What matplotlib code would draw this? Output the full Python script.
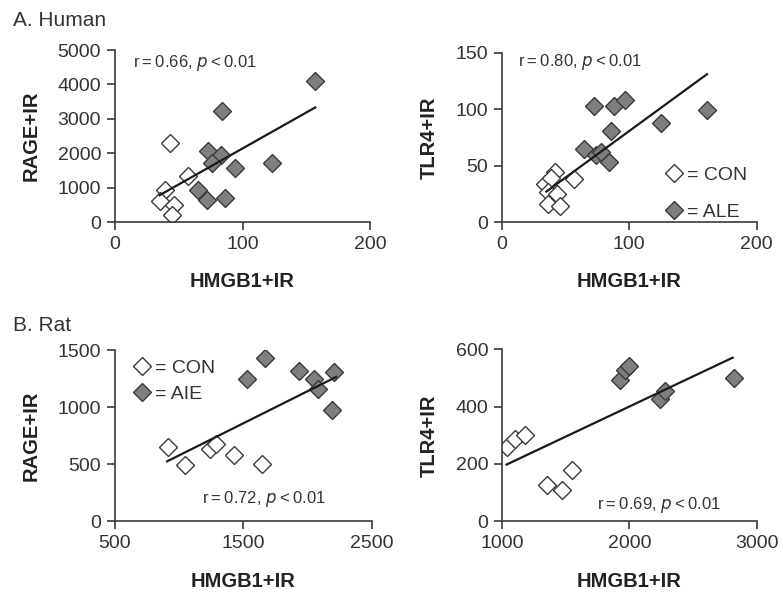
import matplotlib
matplotlib.use('Agg')
import matplotlib.pyplot as plt

plt.rcParams['font.family'] = ['Liberation Sans', 'DejaVu Sans']

# ---- data ----
# A. Human, RAGE vs HMGB1
hum_rage_con_x = [43, 57, 39, 35, 46, 45]
hum_rage_con_y = [2300, 1350, 930, 600, 490, 200]
hum_rage_ale_x = [157, 84, 73, 83, 76, 94, 123, 65, 72, 86]
hum_rage_ale_y = [4100, 3230, 2070, 1940, 1710, 1580, 1730, 940, 650, 700]
hum_rage_fit_x = [35, 157]
hum_rage_fit_y = [780, 3330]

# A. Human, TLR4 vs HMGB1
hum_tlr4_con_x = [42, 57, 34, 39, 36, 43, 36, 46]
hum_tlr4_con_y = [44, 38, 34, 39, 27, 25, 16, 14]
hum_tlr4_ale_x = [72, 88, 97, 161, 125, 86, 64.5, 74, 78, 84]
hum_tlr4_ale_y = [103, 103, 108, 99, 88, 81, 64.5, 59, 62, 53]
hum_tlr4_fit_x = [35, 161]
hum_tlr4_fit_y = [27, 131]

# B. Rat, RAGE vs HMGB1
rat_rage_con_x = [914, 1042, 1241, 1290, 1424, 1649]
rat_rage_con_y = [650, 490, 630, 680, 580, 505]
rat_rage_aie_x = [1665, 1531, 1935, 2050, 2079, 2207, 2194]
rat_rage_aie_y = [1433, 1251, 1319, 1246, 1164, 1313, 974]
rat_rage_fit_x = [906, 2222]
rat_rage_fit_y = [526, 1266]

# B. Rat, TLR4 vs HMGB1
rat_tlr4_con_x = [1035, 1100, 1175, 1349, 1467, 1546]
rat_tlr4_con_y = [258, 286, 302, 126, 108, 178]
rat_tlr4_aie_x = [1927, 1966, 1997, 2236, 2283, 2819]
rat_tlr4_aie_y = [492, 527, 542, 426, 453, 500]
rat_tlr4_fit_x = [1034, 2811]
rat_tlr4_fit_y = [198, 571]

# ---- style ----
tick_fs = 14
label_fs = 14.5
note_fs = 12
txt_col = '#333333'
edge_col = '#3a3a3a'
gray_fill = '#7f7f7f'
ms = 9

fig = plt.figure(figsize=(7.83, 5.97), dpi=100)


def setup(ax, xlim, ylim, xticks, yticks, ylabel):
    ax.set_xlim(xlim)
    ax.set_ylim(ylim)
    ax.set_xticks(xticks)
    ax.set_yticks(yticks)
    for s in ['top', 'right']:
        ax.spines[s].set_visible(False)
    for s in ['left', 'bottom']:
        ax.spines[s].set_color(edge_col)
        ax.spines[s].set_linewidth(1.2)
    ax.tick_params(direction='out', length=6, width=1.2, color=edge_col,
                   labelsize=tick_fs, labelcolor=txt_col, pad=4)
    ax.set_xlabel('HMGB1+IR', fontsize=label_fs, fontweight='bold', color='#222222', labelpad=14)
    ax.set_ylabel(ylabel, fontsize=label_fs, fontweight='bold', color='#222222', labelpad=12)
    ax.patch.set_alpha(0)


def draw(ax, cx, cy, gx, gy, fx, fy, glabel):
    ax.plot(fx, fy, color='#1a1a1a', lw=1.6, zorder=3)
    ax.plot(cx, cy, 'D', ms=ms, mfc='white', mec=edge_col, mew=1.0, ls='none',
            label='= CON', zorder=2)
    ax.plot(gx, gy, 'D', ms=ms, mfc=gray_fill, mec=edge_col, mew=1.0, ls='none',
            label='= ' + glabel, zorder=2)


def note(ax, x, y, r):
    ax.text(x, y, 'r\u2009=\u2009' + r + ', $\\it{p}$\u2009<\u20090.01', transform=ax.transAxes,
            ha='center', va='center', fontsize=note_fs, color=txt_col)


# A-left
ax1 = fig.add_axes([0.1469, 0.6281, 0.3257, 0.2881])
draw(ax1, hum_rage_con_x, hum_rage_con_y, hum_rage_ale_x, hum_rage_ale_y,
     hum_rage_fit_x, hum_rage_fit_y, 'ALE')
setup(ax1, (0, 200), (0, 5000), [0, 100, 200], [0, 1000, 2000, 3000, 4000, 5000], 'RAGE+IR')
note(ax1, 0.314, 0.924, '0.66')

# A-right
ax2 = fig.add_axes([0.6408, 0.6281, 0.3257, 0.2836])
draw(ax2, hum_tlr4_con_x, hum_tlr4_con_y, hum_tlr4_ale_x, hum_tlr4_ale_y,
     hum_tlr4_fit_x, hum_tlr4_fit_y, 'ALE')
setup(ax2, (0, 200), (0, 150), [0, 100, 200], [0, 50, 100, 150], 'TLR4+IR')
note(ax2, 0.306, 0.947, '0.80')
ax2.legend(loc='upper left', bbox_to_anchor=(0.59, 0.385), frameon=False,
           fontsize=tick_fs, handletextpad=0.1, labelspacing=1.0,
           borderpad=0, handlelength=1.2, labelcolor=txt_col)

# B-left
ax3 = fig.add_axes([0.1469, 0.1268, 0.3278, 0.2864])
draw(ax3, rat_rage_con_x, rat_rage_con_y, rat_rage_aie_x, rat_rage_aie_y,
     rat_rage_fit_x, rat_rage_fit_y, 'AIE')
setup(ax3, (500, 2500), (0, 1500), [500, 1500, 2500], [0, 500, 1000, 1500], 'RAGE+IR')
note(ax3, 0.578, 0.129, '0.72')
ax3.legend(loc='upper left', bbox_to_anchor=(0.02, 1.005), frameon=False,
           fontsize=tick_fs, handletextpad=0.1, labelspacing=0.45,
           borderpad=0, handlelength=1.2, labelcolor=txt_col)

# B-right
ax4 = fig.add_axes([0.6415, 0.1268, 0.3249, 0.2880])
draw(ax4, rat_tlr4_con_x, rat_tlr4_con_y, rat_tlr4_aie_x, rat_tlr4_aie_y,
     rat_tlr4_fit_x, rat_tlr4_fit_y, 'AIE')
setup(ax4, (1000, 3000), (0, 600), [1000, 2000, 3000], [0, 200, 400, 600], 'TLR4+IR')
note(ax4, 0.617, 0.097, '0.69')

fig.text(0.0166, 0.965, 'A. Human', fontsize=15, color=txt_col, va='center', ha='left')
fig.text(0.0166, 0.455, 'B. Rat', fontsize=15, color=txt_col, va='center', ha='left')

fig.savefig('out.png', dpi=100)
